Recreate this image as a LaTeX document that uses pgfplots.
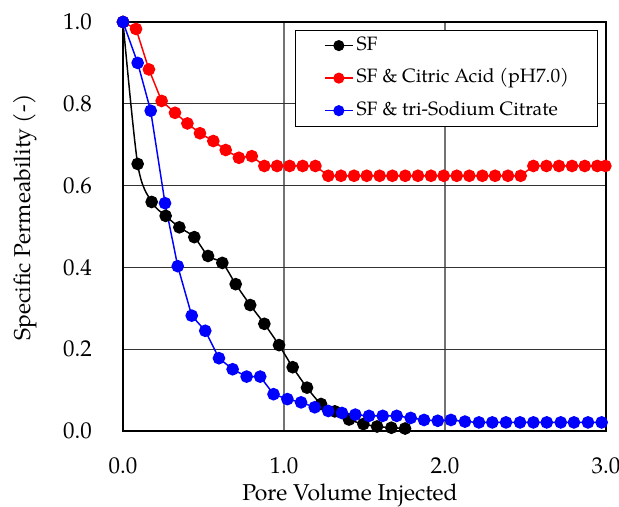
\documentclass[border=0pt]{standalone}
\usepackage{fontspec}
\setmainfont{TeX Gyre Pagella}
\usepackage{pgfplots}
\pgfplotsset{compat=1.18}
\begin{document}
\fontsize{17.2}{20.5}\selectfont
\begin{tikzpicture}
\useasboundingbox (-92.25pt,-57pt) rectangle (372pt,323.25pt);
\begin{axis}[
  scale only axis, width=362.25pt, height=306.75pt,
  xmin=0, xmax=3, ymin=0, ymax=1,
  xtick={0,1,2,3}, ytick={0,0.2,0.4,0.6,0.8,1},
  grid=major,
  x grid style={black!55, line width=0.8pt},
  y grid style={black!80, line width=0.7pt},
  axis line style={line width=1.4pt},
  major tick length=0pt,
  clip=false,
  /pgf/number format/assume math mode=true,
  /pgf/number format/fixed,
  /pgf/number format/fixed zerofill,
  /pgf/number format/precision=1,
  xticklabel style={inner sep=0pt, anchor=north, yshift=-19.5pt},
  yticklabel style={inner sep=0pt, anchor=east, xshift=-23.25pt},
  xlabel={Pore Volume Injected},
  ylabel={Specific Permeability (-)},
  xlabel style={at={(axis description cs:0.47,-0.1704)}, anchor=base, inner sep=0pt},
  ylabel style={at={(axis description cs:-0.203,0.522)}, anchor=center, inner sep=0pt},
  legend cell align=left,
  legend style={at={(0.356,0.981)}, anchor=north west, draw=black, line width=0.75pt,
    fill=white, inner xsep=21.5pt, inner ysep=4.5pt, row sep=10.4pt, column sep=2.25pt,
    font=\fontsize{14.5}{17}\selectfont,
    nodes={inner sep=0pt, text height=10.5pt, text depth=3.5pt}},
  legend image code/.code={\draw[mark repeat=2,mark phase=2,#1,mark size=3.6pt] plot coordinates {(0pt,0pt) (10.5pt,0pt) (21pt,0pt)};},
]
\addplot[black, line width=1.1pt, smooth, mark=*, mark size=4.2pt] coordinates {
(0,1.0) (0.091,0.653) (0.178,0.560) (0.265,0.526) (0.35,0.498) (0.443,0.474)
(0.528,0.428) (0.617,0.411) (0.70,0.359) (0.79,0.308) (0.878,0.262) (0.969,0.210)
(1.054,0.156) (1.143,0.106) (1.23,0.066) (1.316,0.048) (1.404,0.028) (1.493,0.017)
(1.578,0.011) (1.667,0.008) (1.752,0.006)
};
\addlegendentry{SF}
\addplot[red, line width=1.1pt, mark=*, mark size=4.2pt] coordinates {
(0,1.0) (0.081,0.983) (0.161,0.884) (0.24,0.807) (0.323,0.778) (0.40,0.752)
(0.478,0.728) (0.561,0.709) (0.638,0.687) (0.72,0.668) (0.80,0.672)
(0.878,0.648) (0.957,0.648) (1.035,0.648) (1.116,0.648) (1.195,0.648)
(1.275,0.624) (1.354,0.624) (1.435,0.624) (1.514,0.624) (1.594,0.624) (1.673,0.624)
(1.753,0.624) (1.832,0.624) (1.913,0.624) (1.992,0.624) (2.073,0.624) (2.151,0.624)
(2.232,0.624) (2.311,0.624) (2.391,0.624) (2.47,0.624)
(2.549,0.648) (2.63,0.648) (2.708,0.648) (2.789,0.648) (2.868,0.648) (2.946,0.648) (2.996,0.648)
};
\addlegendentry{SF \& Citric Acid (pH7.0)}
\addplot[blue, line width=1.1pt, mark=*, mark size=4.2pt] coordinates {
(0,1.0) (0.091,0.90) (0.172,0.783) (0.261,0.557) (0.34,0.403) (0.427,0.282)
(0.511,0.245) (0.596,0.178) (0.681,0.151) (0.768,0.133) (0.852,0.133) (0.935,0.090)
(1.021,0.078) (1.106,0.070) (1.191,0.058) (1.275,0.049) (1.36,0.044) (1.443,0.040)
(1.528,0.037) (1.613,0.037) (1.70,0.037) (1.787,0.032) (1.87,0.027) (1.955,0.025)
(2.037,0.027) (2.124,0.023) (2.211,0.021) (2.294,0.021) (2.379,0.021) (2.466,0.021)
(2.549,0.021) (2.632,0.021) (2.719,0.021) (2.801,0.021) (2.888,0.021) (2.973,0.021)
};
\addlegendentry{SF \& tri-Sodium Citrate}
\end{axis}
\end{tikzpicture}
\end{document}
